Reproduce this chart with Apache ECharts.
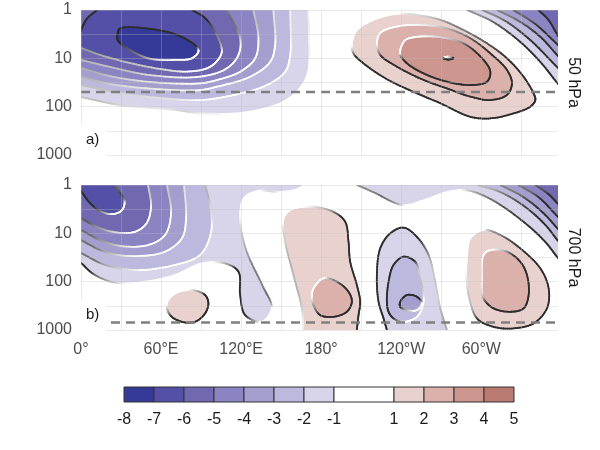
<!DOCTYPE html>
<html><head><meta charset="utf-8">
<script src="https://cdn.jsdelivr.net/npm/echarts@6/dist/echarts.min.js"></script>
<style>html,body{margin:0;padding:0;background:#fff}#c{width:600px;height:450px}</style>
</head><body><div id="c"></div>
<script>
// ---------------- data ----------------
const lonTicks = [0, 60, 120, 180, 240, 300];
const lonTickLabels = ['0°', '60°E', '120°E', '180°', '120°W', '60°W'];
const pressureTicks = [1, 10, 100, 1000];
const refLevels = [50, 700];
const refLabels = ['50 hPa', '700 hPa'];
const panelLabels = ['a)', 'b)'];
const colorBreaks = [-8, -7, -6, -5, -4, -3, -2, -1, 1, 2, 3, 4, 5];
const colorFills = ['#353a98', '#5450a7', '#7069b2', '#8b84c2', '#a49ecf', '#bdb8dd', '#d8d5eb', '#ffffff', '#e9d2ce', '#dcb1ab', '#cc958e', '#b97a72'];
const lonRange = [0, 357.5];
const presRange = [1, 1000];

// contour lines, points are [longitude (deg E), pressure (hPa)]
// panel a (50 hPa)
const a_m7 = [[27.5,3.0],[29.3,2.4],[58,2.6],[75.5,3.6],[86.8,5.8],[88,7.3],[83,10],[70.5,10.8],[50.5,10],[33,5.8],[27.5,4.2]];
const a_m6 = [[0,6.1],[14.3,8.5],[36.8,12.5],[59.3,16.6],[78,18.8],[93,16.6],[100.5,12.5],[105.5,7.4],[101.8,3.3],[93,1.47],[83.3,1]];
const a_m6b = [[12,1],[4.5,1.5],[1.5,2.1],[0,2.7]];
const a_m5 = [[0,10.8],[21.8,15.1],[51.8,22.2],[89.3,24],[109.3,16.1],[118,8.5],[119.3,3.85],[109.3,1]];
const a_m4 = [[0,15.9],[21.8,23.3],[51.8,30.9],[89.3,33],[101.8,28.1],[119.3,18.9],[130.5,10],[133,3.85],[129.2,1]];
const a_m3 = [[0,24.4],[21.8,34],[51.8,42.2],[89.3,45.3],[101.8,38.7],[126.8,24],[141.8,11.8],[145.5,5.3],[144.2,1]];
const a_m2 = [[0,35.7],[29.3,52.3],[59.3,66.4],[89.3,73],[114.2,57.5],[139.3,35.7],[153,18.9],[156.8,8.5],[156.8,1]];
const a_m1 = [[0,63],[29.3,93],[70.5,117],[89.3,136],[123,132],[151.5,80],[164.3,41],[170.3,19],[171,3.8],[170.3,1]];
const a_tr1 = [[289.5,1],[309,1.77],[329.3,4.6],[344.3,11.9],[357.5,34]];
const a_tr2 = [[300.8,1],[318,1.69],[336.8,4.2],[357.5,15.9]];
const a_tr3 = [[312,1],[329.3,1.77],[344.3,3.6],[357.5,9]];
const a_tr4 = [[324,1],[340.5,1.95],[357.5,5.3]];
const a_tr5 = [[342.8,1],[350.3,1.6],[357.5,3.45]];
const a_p1 = [[203,4.9],[206.8,2.6],[219.2,1.6],[236.8,1.2],[251.8,1.27],[269.3,1.6],[286.7,2.6],[304.3,4.9],[319.3,10],[331.7,24],[339.2,53],[340.5,73],[336.8,100],[324.2,138],[306.8,175],[291.8,162],[269.3,85],[251.8,53],[230.3,28],[211.7,12.7],[204.2,7.9]];
const a_p2 = [[221.8,4.9],[224.3,3.0],[236.8,2.2],[256.7,2.05],[274.3,2.4],[291.8,3.85],[306.8,7.9],[319.3,17.5],[323,33],[319.3,57],[306.8,73],[291.8,62],[274.3,42],[256.7,28],[236.8,14.9],[224.3,8.5]];
const a_p3 = [[239.3,6.7],[243,4.2],[251.8,3.6],[266.8,3.6],[286.7,4.9],[301.7,10.8],[306.8,18.9],[304.3,30.5],[291.8,35.7],[274.3,30.5],[256.7,20.5],[244.3,12.7],[239.3,8.5]];
const a_p4 = [[271.5,9.9],[275.3,9.2],[279,9.9],[275.3,10.6]];

// panel b (700 hPa)
const b_m6 = [[0,1.33],[6.75,2.36],[15,3.54],[24,4.0],[30.75,3.3],[32.6,2.14],[27.75,1.27],[25.5,1]];
const b_m5 = [[0,4.8],[10.5,7.1],[24.75,9.4],[39.75,9.4],[48.75,6.4],[52.5,2.85],[50.25,1]];
const b_m4 = [[0,8.5],[14.25,13.8],[30,18.3],[50.25,17.5],[63,10.8],[67.5,3.8],[64.5,1]];
const b_m3 = [[0,13.8],[18,24.4],[37.5,29.5],[62.25,24.4],[75.75,12.5],[78.75,4.6],[77.25,1]];
const b_m2 = [[0,25.6],[18,45],[40.5,57.5],[66.75,47.5],[89.25,28],[97.5,9.4],[96.75,2.6],[93,1]];
const b_m1 = [[0,41],[10.5,73],[27.75,107],[51.75,97],[70.5,73],[90.5,42],[108,42],[118,62],[119.25,189],[123,490],[135.5,676],[143,356],[135.75,117],[123.75,22],[119.25,4.8],[122.25,1.86],[132.75,1.33],[149.25,1.4],[162.75,1.21],[167.25,1]];
const b_tr1 = [[207,1],[219,1.4],[241.5,2.6],[259.5,1.95],[274.5,1.4],[290,1.3],[309,2.1],[334.5,6.7],[348,15.1],[357.5,32.5]];
const b_tr2 = [[297,1],[314.25,1.4],[333,2.85],[348,6.7],[357.5,14.4]];
const b_tr3 = [[314.25,1],[331.5,1.77],[346.5,3.8],[357.5,8.15]];
const b_tr4 = [[327.75,1],[342.75,1.77],[357.5,4.6]];
const b_tr5 = [[340.5,1],[350.25,1.54],[357.5,2.47]];
const b_p70 = [[64.3,281],[70.5,175],[83,149],[93,189],[95.5,281],[93,453],[85.5,676],[75.5,676],[66.75,490]];
const b_p180a = [[166.7,1000],[165.5,357],[159.25,73],[153,14.9],[151.75,4.9],[156.75,3.3],[171.75,2.8],[189.25,3.6],[198,5.75],[200.5,14.9],[201.75,38.7],[206.75,117],[209.25,261],[208,492],[206.75,1000]];
const b_p180b = [[174.25,138],[181.75,85],[191.75,100],[200.5,162],[203,261],[199.25,420],[189.25,533],[179.25,492],[174.25,305],[173,205]];
const b_n120a = [[229.25,1000],[226.75,575],[223,261],[221.75,73],[224.25,20.4],[231.75,10],[241.75,7.6],[251.75,11.8],[260.5,28],[265.5,100],[269.25,357],[274.25,1000]];
const b_n120b = [[229.25,261],[230.5,100],[234.25,45],[241.75,30.5],[250.5,38.7],[254.25,85],[256.75,261],[251.75,533],[241.75,676],[234.25,575],[230.5,420]];
const b_n120c = [[239.25,261],[244.25,189],[251.75,205],[255.5,281],[251.75,387],[244.25,387],[239.25,331]];
const b_p60a = [[289.25,33],[291.75,12.7],[301.75,8.5],[314.25,10.8],[329.25,20.5],[344.25,53],[350.5,138],[349.25,357],[339.25,730],[324.25,927],[309.25,860],[296.75,575],[290.5,189],[288.75,73]];
const b_p60b = [[301.75,28],[306.75,22.2],[319.25,24],[329.25,38.7],[334.25,73],[335.5,189],[331.75,357],[321.75,420],[309.25,357],[301.75,222],[300.5,73]];

// contour table: level + pieces ('TL'/'TR' = plot corner used to close a fill)
const panelA = [
  {level:-1, parts:[a_m1,'TL']}, {level:-2, parts:[a_m2,'TL']}, {level:-3, parts:[a_m3,'TL']},
  {level:-4, parts:[a_m4,'TL']}, {level:-5, parts:[a_m5,'TL']}, {level:-6, parts:[a_m6,a_m6b]},
  {level:-7, parts:[a_m7], closed:true},
  {level:-1, parts:[a_tr1,'TR']}, {level:-2, parts:[a_tr2,'TR']}, {level:-3, parts:[a_tr3,'TR']},
  {level:-4, parts:[a_tr4,'TR']}, {level:-5, parts:[a_tr5,'TR']},
  {level:1, parts:[a_p1], closed:true}, {level:2, parts:[a_p2], closed:true},
  {level:3, parts:[a_p3], closed:true}, {level:4, parts:[a_p4], closed:true}
];
const panelB = [
  {level:-1, parts:[b_m1,'TL']}, {level:-2, parts:[b_m2,'TL']}, {level:-3, parts:[b_m3,'TL']},
  {level:-4, parts:[b_m4,'TL']}, {level:-5, parts:[b_m5,'TL']}, {level:-6, parts:[b_m6,'TL']},
  {level:-1, parts:[b_tr1,'TR']}, {level:-2, parts:[b_tr2,'TR']}, {level:-3, parts:[b_tr3,'TR']},
  {level:-4, parts:[b_tr4,'TR']}, {level:-5, parts:[b_tr5,'TR']},
  {level:1, parts:[b_p70], closed:true},
  {level:1, parts:[b_p180a]}, {level:2, parts:[b_p180b], closed:true},
  {level:-1, parts:[b_n120a]}, {level:-2, parts:[b_n120b], closed:true}, {level:-3, parts:[b_n120c], closed:true},
  {level:1, parts:[b_p60a], closed:true}, {level:2, parts:[b_p60b], closed:true}
];

// ---------------- rendering helpers ----------------
const CORNERS = {TL:[lonRange[0], presRange[0]], TR:[lonRange[1], presRange[0]]};
const FONT = 'Liberation Sans, Arial, Helvetica, sans-serif';
const GRIDLINE = 'rgba(190,190,190,0.32)';
const LIGHT = [Math.SQRT1_2, Math.SQRT1_2];

function fillColor(level) {
  const lo = level < 0 ? level - 1 : level;
  return colorFills[colorBreaks.indexOf(lo)];
}
function lerp(a, b, u) { return [a[0] + (b[0]-a[0])*u, a[1] + (b[1]-a[1])*u]; }
function spline(P, closed, steps) {
  steps = steps || 10;
  const n = P.length;
  if (n < 3) return P.map(p => p.slice());
  const get = i => {
    if (closed) return P[((i % n) + n) % n];
    if (i < 0) return [2*P[0][0]-P[1][0], 2*P[0][1]-P[1][1]];
    if (i >= n) return [2*P[n-1][0]-P[n-2][0], 2*P[n-1][1]-P[n-2][1]];
    return P[i];
  };
  const dist = (a, b) => Math.max(Math.sqrt(Math.hypot(b[0]-a[0], b[1]-a[1])), 1e-4);
  const out = [];
  const segs = closed ? n : n - 1;
  for (let i = 0; i < segs; i++) {
    const p0 = get(i-1), p1 = get(i), p2 = get(i+1), p3 = get(i+2);
    const t0 = 0, t1 = t0 + dist(p0,p1), t2 = t1 + dist(p1,p2), t3 = t2 + dist(p2,p3);
    for (let s = 0; s < steps; s++) {
      const t = t1 + (t2 - t1) * s / steps;
      const A1 = lerp(p0, p1, (t-t0)/(t1-t0));
      const A2 = lerp(p1, p2, (t-t1)/(t2-t1));
      const A3 = lerp(p2, p3, (t-t2)/(t3-t2));
      const B1 = lerp(A1, A2, (t-t0)/(t2-t0));
      const B2 = lerp(A2, A3, (t-t1)/(t3-t1));
      out.push(lerp(B1, B2, (t-t1)/(t2-t1)));
    }
  }
  out.push(closed ? get(0).slice() : P[n-1].slice());
  return out;
}

function contourSeries(list, idx) {
  const sorted = list.slice().sort((u, v) => Math.abs(u.level) - Math.abs(v.level));
  return {
    type: 'custom', xAxisIndex: idx, yAxisIndex: idx, clip: true, silent: true, z: 2,
    data: sorted.map((c, i) => [i]),
    renderItem: function (params, api) {
      const c = sorted[params.dataIndex];
      const toPx = pt => api.coord([pt[0], Math.log10(pt[1])]);
      const fillPts = [], lines = [];
      c.parts.forEach(part => {
        if (typeof part === 'string') { fillPts.push(toPx(CORNERS[part])); return; }
        const sm = spline(part.map(toPx), !!c.closed, 10);
        lines.push(sm);
        for (const p of sm) fillPts.push(p);
      });
      let S = 0;
      for (let i = 0; i < fillPts.length; i++) {
        const a = fillPts[i], b = fillPts[(i+1) % fillPts.length];
        S += a[0]*b[1] - b[0]*a[1];
      }
      const sgn = S > 0 ? 1 : -1;
      const children = [{
        type: 'polygon', shape: {points: fillPts},
        style: {fill: fillColor(c.level), stroke: null}, z2: params.dataIndex
      }];
      lines.forEach(l => {
        for (let k = 0; k < l.length - 1; k++) {
          const x1 = l[k][0], y1 = l[k][1], x2 = l[k+1][0], y2 = l[k+1][1];
          const dx = x2 - x1, dy = y2 - y1, len = Math.hypot(dx, dy);
          if (len < 1e-6) continue;
          let nx = -dy / len * sgn, ny = dx / len * sgn; // inward normal
          if (c.level < 0) { nx = -nx; ny = -ny; }       // uphill direction
          const d = nx * LIGHT[0] + ny * LIGHT[1];
          const t = Math.max(0, Math.min(1, -0.1 + 1.5 * d));
          const g = Math.round(45 + 210 * t);
          children.push({
            type: 'line', shape: {x1: x1, y1: y1, x2: x2, y2: y2},
            style: {stroke: 'rgb(' + g + ',' + g + ',' + g + ')', lineWidth: 1.8, lineCap: 'round'},
            z2: 1000 + params.dataIndex
          });
        }
      });
      return {type: 'group', children: children};
    }
  };
}

function refLineSeries(level, idx) {
  return {
    type: 'line', xAxisIndex: idx, yAxisIndex: idx, silent: true, z: 5,
    symbol: 'none', animation: false,
    lineStyle: {color: '#7f7f7f', width: 2.5, type: [9, 6]},
    data: [[lonRange[0], Math.log10(level)], [lonRange[1], Math.log10(level)]]
  };
}

const lonFormatter = v => { const i = lonTicks.indexOf(Math.round(v*1000)/1000); return i >= 0 ? lonTickLabels[i] : ''; };
const presFormatter = v => {
  if (Math.abs(v - Math.round(v)) > 1e-6) return '';
  const p = Math.round(Math.pow(10, v));
  return pressureTicks.indexOf(p) >= 0 ? String(p) : '';
};

function xAx(idx, showLabels) {
  return {
    gridIndex: idx, type: 'value', min: lonRange[0], max: lonRange[1], interval: 30, z: 10,
    axisLine: {show: false}, axisTick: {show: false},
    splitLine: {show: true, showMaxLine: false, lineStyle: {color: GRIDLINE, width: 1}},
    axisLabel: {show: showLabels, formatter: lonFormatter, fontSize: 16, color: '#4d4d4d', fontFamily: FONT, margin: 12}
  };
}
function yAx(idx) {
  return {
    gridIndex: idx, type: 'value', min: Math.log10(presRange[0]), max: Math.log10(presRange[1]), interval: 0.5, inverse: true, z: 10,
    axisLine: {show: false}, axisTick: {show: false},
    splitLine: {show: true, lineStyle: {color: GRIDLINE, width: 1}},
    axisLabel: {formatter: presFormatter, fontSize: 16, color: '#4d4d4d', fontFamily: FONT, margin: 9}
  };
}

const chart = echarts.init(document.getElementById('c'), null, {renderer: 'canvas'});
const option = {
  animation: false,
  backgroundColor: '#ffffff',
  grid: [
    {left: 81, top: 10, width: 477, height: 145, outerBoundsMode: 'none'},
    {left: 81, top: 185, width: 477, height: 145, outerBoundsMode: 'none'},
    {left: 124, top: 387, width: 390, height: 15, outerBoundsMode: 'none'}
  ],
  xAxis: [
    xAx(0, false), xAx(1, true),
    {gridIndex: 2, type: 'value', min: colorBreaks[0], max: colorBreaks[colorBreaks.length-1], interval: 1,
     axisLine: {show: false}, axisTick: {show: false}, splitLine: {show: false},
     axisLabel: {formatter: v => colorBreaks.indexOf(v) >= 0 ? String(v) : '', fontSize: 16, color: '#1a1a1a', fontFamily: FONT, margin: 10}}
  ],
  yAxis: [
    yAx(0), yAx(1),
    {gridIndex: 2, type: 'value', min: 0, max: 1, show: false}
  ],
  series: [
    contourSeries(panelA, 0),
    contourSeries(panelB, 1),
    refLineSeries(refLevels[0], 0),
    refLineSeries(refLevels[1], 1),
    {
      type: 'custom', xAxisIndex: 2, yAxisIndex: 2, silent: true,
      data: colorFills.map((c, i) => [colorBreaks[i], colorBreaks[i+1], i]),
      renderItem: function (params, api) {
        const p0 = api.coord([api.value(0), 1]);
        const p1 = api.coord([api.value(1), 0]);
        return {type: 'rect', shape: {x: p0[0], y: p0[1], width: p1[0]-p0[0], height: p1[1]-p0[1]},
          style: {fill: colorFills[api.value(2)], stroke: '#333333', lineWidth: 1}};
      }
    }
  ],
  graphic: [
    {type: 'rect', z: 50, silent: true, shape: {x: 81, y: 125, width: 25, height: 31}, style: {fill: '#ffffff'}},
    {type: 'text', z: 51, silent: true, x: 86, y: 140, style: {text: panelLabels[0], font: '15px ' + FONT, fill: '#1a1a1a', textAlign: 'left', textVerticalAlign: 'middle', align: 'left', verticalAlign: 'middle'}},
    {type: 'rect', z: 50, silent: true, shape: {x: 81, y: 300, width: 25, height: 31}, style: {fill: '#ffffff'}},
    {type: 'text', z: 51, silent: true, x: 86, y: 315, style: {text: panelLabels[1], font: '15px ' + FONT, fill: '#1a1a1a', textAlign: 'left', textVerticalAlign: 'middle', align: 'left', verticalAlign: 'middle'}},
    {type: 'text', z: 51, silent: true, x: 573, y: 82.5, rotation: -Math.PI/2, style: {text: refLabels[0], font: '16px ' + FONT, fill: '#1a1a1a', textAlign: 'center', textVerticalAlign: 'middle', align: 'center', verticalAlign: 'middle'}},
    {type: 'text', z: 51, silent: true, x: 573, y: 257.5, rotation: -Math.PI/2, style: {text: refLabels[1], font: '16px ' + FONT, fill: '#1a1a1a', textAlign: 'center', textVerticalAlign: 'middle', align: 'center', verticalAlign: 'middle'}}
  ]
};
chart.setOption(option);
</script>
</body></html>
